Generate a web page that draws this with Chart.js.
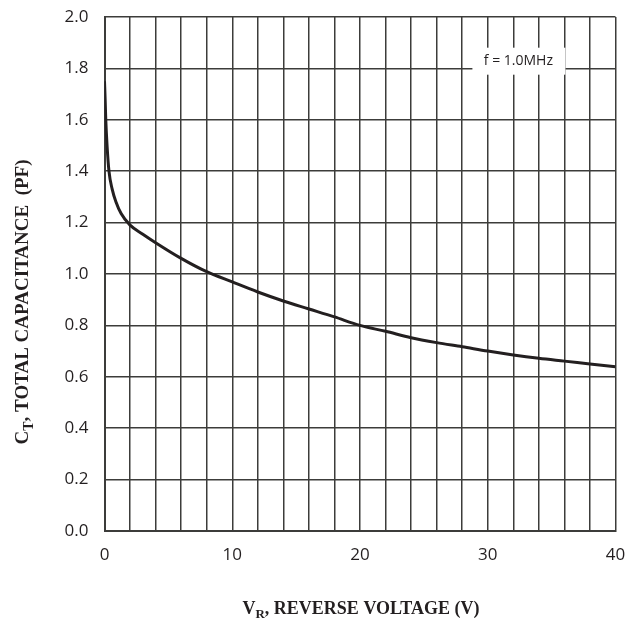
<!DOCTYPE html>
<html>
<head>
<meta charset="utf-8">
<script src="https://cdn.jsdelivr.net/npm/chart.js@4.4.1/dist/chart.umd.min.js"></script>
<style>
  html, body { margin: 0; padding: 0; background: #ffffff; }
  #wrap { position: relative; width: 643px; height: 635px; }
</style>
</head>
<body>
<div id="wrap"><canvas id="c" width="643" height="635"></canvas></div>
<script>
// Data
const voltage = [0, 0.05, 0.1, 0.2, 0.35, 0.6, 0.9, 1.3, 2, 3, 4, 6, 8, 10, 12, 14, 16, 18, 20, 22, 24, 26, 28, 30, 32, 34, 36, 38, 40];
const capacitance = [1.75, 1.68, 1.6, 1.5, 1.4, 1.33, 1.28, 1.235, 1.19, 1.155, 1.122, 1.061, 1.009, 0.969, 0.93, 0.895, 0.864, 0.833, 0.80, 0.777, 0.752, 0.733, 0.717, 0.700, 0.685, 0.672, 0.661, 0.650, 0.639];
const xLabelValues = [0, 10, 20, 30, 40];
const annotationText = 'f = 1.0MHz';
const yTitleMain = 'C';
const yTitleSub = 'T';
const yTitleRest = ', TOTAL CAPACITANCE  (PF)';
const xTitleMain = 'V';
const xTitleSub = 'R';
const xTitleRest = ', REVERSE VOLTAGE (V)';

const points = voltage.map((v, i) => ({ x: v, y: capacitance[i] }));

const ink = '#231f20';
const gridInk = '#3c3c3a';

const extras = {
  id: 'extras',
  afterDatasetsDraw(chart) {
    const ctx = chart.ctx;
    const xs = chart.scales.x, ys = chart.scales.y;
    const cx = xs.getPixelForValue(32.4);
    const cy = ys.getPixelForValue(1.83);
    ctx.save();
    ctx.fillStyle = '#ffffff';
    ctx.fillRect(cx - 46, cy - 13, 93, 27);
    ctx.fillStyle = ink;
    ctx.font = '14px "Open Sans", "Noto Sans", sans-serif';
    ctx.textAlign = 'center';
    ctx.textBaseline = 'middle';
    ctx.fillText(annotationText, cx, cy);
    ctx.restore();
  },
  afterDraw(chart) {
    const ctx = chart.ctx;
    ctx.save();
    ctx.fillStyle = ink;
    ctx.textBaseline = 'alphabetic';
    ctx.textAlign = 'left';
    // x title
    const bigX = 'bold 18px "Liberation Serif", "Times New Roman", serif';
    const smallX = 'bold 13px "Liberation Serif", "Times New Roman", serif';
    ctx.font = bigX; const w1 = ctx.measureText(xTitleMain).width;
    const w3 = ctx.measureText(xTitleRest).width;
    ctx.font = smallX; const w2 = ctx.measureText(xTitleSub).width;
    const total = w1 + w2 + w3;
    const x0 = 361 - total / 2;
    const by = 614;
    ctx.font = bigX; ctx.fillText(xTitleMain, x0, by);
    ctx.font = smallX; ctx.fillText(xTitleSub, x0 + w1, by + 4);
    ctx.font = bigX; ctx.fillText(xTitleRest, x0 + w1 + w2, by);
    // y title (rotated)
    const bigY = 'bold 19px "Liberation Serif", "Times New Roman", serif';
    const smallY = 'bold 14px "Liberation Serif", "Times New Roman", serif';
    ctx.translate(28, 302);
    ctx.rotate(-Math.PI / 2);
    ctx.font = bigY; const a1 = ctx.measureText(yTitleMain).width;
    const a3 = ctx.measureText(yTitleRest).width;
    ctx.font = smallY; const a2 = ctx.measureText(yTitleSub).width;
    const t2 = a1 + a2 + a3;
    const y0 = -t2 / 2;
    ctx.font = bigY; ctx.fillText(yTitleMain, y0, 0);
    ctx.font = smallY; ctx.fillText(yTitleSub, y0 + a1, 5);
    ctx.font = bigY; ctx.fillText(yTitleRest, y0 + a1 + a2, 0);
    ctx.restore();
  }
};

new Chart(document.getElementById('c'), {
  type: 'line',
  data: {
    datasets: [{
      data: points,
      borderColor: ink,
      borderWidth: 3,
      pointRadius: 0,
      fill: false,
      cubicInterpolationMode: 'monotone'
    }]
  },
  options: {
    responsive: false,
    animation: false,
    devicePixelRatio: 1,
    layout: { padding: { top: 17, right: 27.5, left: 0, bottom: 0 } },
    plugins: { legend: { display: false }, tooltip: { enabled: false } },
    scales: {
      x: {
        type: 'linear',
        min: 0, max: 40,
        afterFit(s) { s.height = 104; s.paddingLeft = 0; s.paddingRight = 0; },
        border: { display: true, color: gridInk, width: 2 },
        grid: { color: gridInk, lineWidth: 1.5, drawTicks: false },
        ticks: {
          stepSize: 2,
          padding: 14,
          color: ink,
          font: { family: '"Open Sans", "Noto Sans", sans-serif', size: 17 },
          maxRotation: 0,
          autoSkip: false,
          callback: (v) => xLabelValues.includes(v) ? String(v) : ''
        }
      },
      y: {
        min: 0, max: 2,
        afterFit(s) { s.width = 104.5; s.paddingTop = 0; s.paddingBottom = 0; },
        border: { display: true, color: gridInk, width: 2 },
        grid: { color: gridInk, lineWidth: 1.5, drawTicks: false },
        ticks: {
          stepSize: 0.2,
          padding: 16,
          color: ink,
          font: { family: '"Open Sans", "Noto Sans", sans-serif', size: 17 },
          callback: (v) => Number(v).toFixed(1)
        }
      }
    }
  },
  plugins: [extras]
});
</script>
</body>
</html>
